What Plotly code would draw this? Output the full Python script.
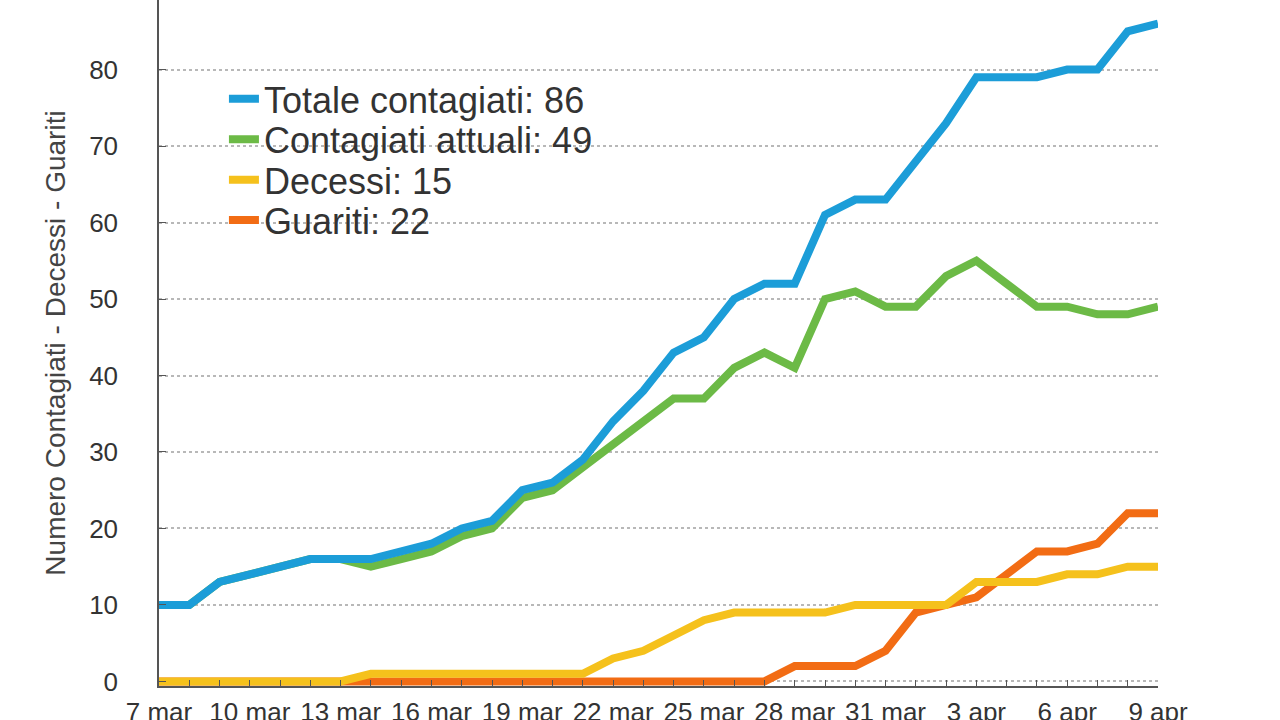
import plotly.graph_objects as go

# giorni dal 7 marzo al 9 aprile
days = list(range(34))
tick_pos = [0, 3, 6, 9, 12, 15, 18, 21, 24, 27, 30, 33]
tick_text = ["7 mar", "10 mar", "13 mar", "16 mar", "19 mar", "22 mar",
             "25 mar", "28 mar", "31 mar", "3 apr", "6 apr", "9 apr"]

totale = [10, 10, 13, 14, 15, 16, 16, 16, 17, 18, 20, 21, 25, 26, 29, 34, 38,
          43, 45, 50, 52, 52, 61, 63, 63, 68, 73, 79, 79, 79, 80, 80, 85, 86]
attuali = [10, 10, 13, 14, 15, 16, 16, 15, 16, 17, 19, 20, 24, 25, 28, 31, 34,
           37, 37, 41, 43, 41, 50, 51, 49, 49, 53, 55, 52, 49, 49, 48, 48, 49]
decessi = [0, 0, 0, 0, 0, 0, 0, 1, 1, 1, 1, 1, 1, 1, 1, 3, 4,
           6, 8, 9, 9, 9, 9, 10, 10, 10, 10, 13, 13, 13, 14, 14, 15, 15]
guariti = [0, 0, 0, 0, 0, 0, 0, 0, 0, 0, 0, 0, 0, 0, 0, 0, 0,
           0, 0, 0, 0, 2, 2, 2, 4, 9, 10, 11, 14, 17, 17, 18, 22, 22]

series = [
    ("Guariti", guariti, "#f26c14", "legend4"),
    ("Decessi", decessi, "#f5c11c", "legend3"),
    ("Contagiati attuali", attuali, "#6cba46", "legend2"),
    ("Totale contagiati", totale, "#1c9dd8", "legend"),
]

fig = go.Figure()
for name, vals, color, leg in series:
    fig.add_trace(go.Scatter(
        x=days, y=vals, mode="lines", name=f"{name}: {vals[-1]}",
        line=dict(color=color, width=8), legend=leg,
    ))

font = "Liberation Sans, Arial, sans-serif"
leg_font = dict(family=font, size=36, color="#333333")
leg_x = 0.065
leg_rows = [0.856, 0.797, 0.738, 0.679]
layout_legends = {}
for i, key in enumerate(["legend", "legend2", "legend3", "legend4"]):
    layout_legends[key] = dict(
        x=leg_x, y=leg_rows[i], xanchor="left", yanchor="middle",
        font=leg_font, bgcolor="rgba(0,0,0,0)", borderwidth=0,
    )

fig.update_layout(
    width=1280, height=720,
    margin=dict(l=159, r=122, t=0, b=34),
    plot_bgcolor="white", paper_bgcolor="white",
    font=dict(family=font, color="#333333"),
    showlegend=True,
    **layout_legends,
)

fig.update_xaxes(
    range=[0, 33], tickvals=tick_pos, ticktext=tick_text,
    showgrid=False, zeroline=False, automargin=False,
    showline=True, linecolor="#555555", linewidth=1.5,
    ticks="inside", ticklen=6, tickcolor="#555555",
    minor=dict(dtick=1, ticks="inside", ticklen=6, tickcolor="#555555", showgrid=False),
    tickfont=dict(size=26, color="#333333"), ticklabelstandoff=2,
)
fig.update_yaxes(
    range=[-0.6, 89.1], tickvals=[0, 10, 20, 30, 40, 50, 60, 70, 80],
    showgrid=True, gridcolor="#b8b8b8", gridwidth=1.5, griddash="dot",
    zeroline=False, automargin=False,
    showline=True, linecolor="#555555", linewidth=1.5,
    ticks="inside", ticklen=7, tickcolor="#555555",
    tickfont=dict(size=26, color="#333333"), ticklabelstandoff=34,
    title=dict(text="Numero Contagiati - Decessi - Guariti",
               font=dict(size=28, color="#444444"), standoff=15),
)

# page without the browser's default body margin
fig.write_html("out.html", config={"displayModeBar": False},
               post_script="document.body.style.margin='0';")
